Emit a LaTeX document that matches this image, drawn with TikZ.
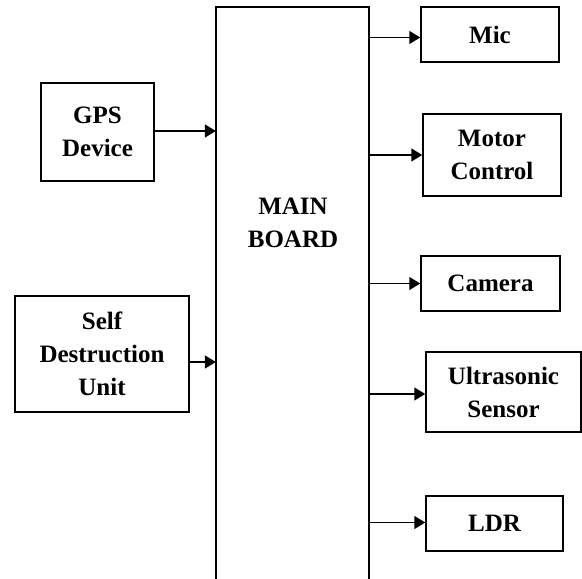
\documentclass[tikz,border=0pt]{standalone}
\usepackage{fontspec}
\setmainfont{Liberation Serif}
\usetikzlibrary{arrows.meta}
\begin{document}
\begin{tikzpicture}[x=1pt, y=-1pt, line width=1.5pt,
  font=\fontsize{25}{33}\selectfont\bfseries,
  box/.style={draw, inner sep=0pt, align=center},
  arr/.style={-{Triangle[length=11pt, width=13pt]}}]
  \useasboundingbox (0,0) rectangle (582,579);
  % main board (open at the bottom)
  \node[minimum width=151.4pt, minimum height=590pt, anchor=north] (main) at (292.3,7) {};
  \draw (main.south west) |- (main.north east) -- (main.south east);
  \node[align=center] (mainlbl) at (293,223) {MAIN\\BOARD};
  % inputs
  \node[box, minimum width=113pt, minimum height=98pt] (gps) at (97.5,132) {GPS\\Device};
  \node[box, minimum width=174pt, minimum height=116pt] (sdu) at (102,354) {Self\\Destruction\\Unit};
  % outputs
  \node[box, minimum width=138pt, minimum height=55pt] (mic) at (490,34.5) {Mic};
  \node[box, minimum width=138pt, minimum height=82pt] (motor) at (492,155) {Motor\\Control};
  \node[box, minimum width=139pt, minimum height=55pt] (cam) at (490.5,283.5) {Camera};
  \node[box, minimum width=155pt, minimum height=80pt] (ultra) at (503.5,392) {Ultrasonic\\Sensor};
  \node[box, minimum width=137pt, minimum height=55pt] (ldr) at (494.5,523.5) {LDR};
  % connectors
  \draw[arr] ([yshift=1pt]gps.east) -- ([yshift=1pt]gps.east -| main.west);
  \draw[arr] ([yshift=-8pt]sdu.east) -- ([yshift=-8pt]sdu.east -| main.west);
  \draw[arr] ([yshift=-3pt]mic.west -| main.east) -- ([yshift=-3pt]mic.west);
  \draw[arr] (motor.west -| main.east) -- (motor.west);
  \draw[arr] (cam.west -| main.east) -- (cam.west);
  \draw[arr] ([yshift=-2pt]ultra.west -| main.east) -- ([yshift=-2pt]ultra.west);
  \draw[arr] ([yshift=1pt]ldr.west -| main.east) -- ([yshift=1pt]ldr.west);
\end{tikzpicture}
\end{document}
